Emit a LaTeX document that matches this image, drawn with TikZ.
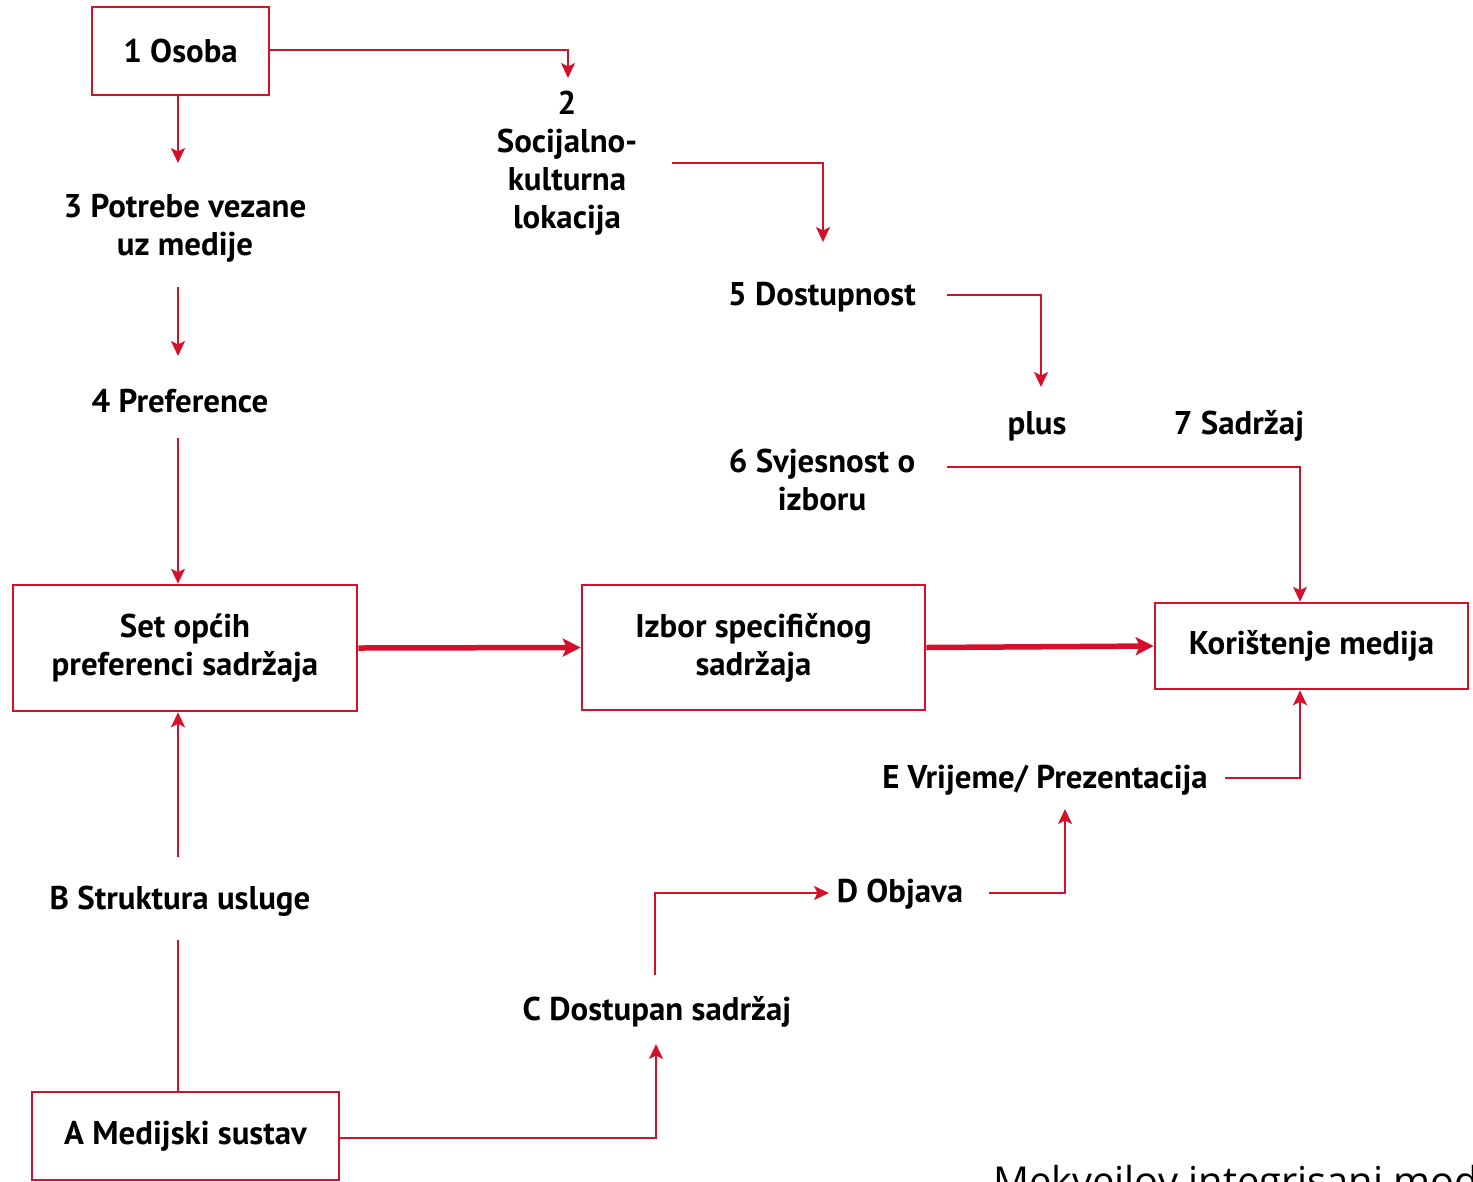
\documentclass[tikz,border=0pt]{standalone}
\usepackage{fontspec}
\setmainfont{PT Sans}
\newfontfamily\capfont{Open Sans}
\usetikzlibrary{arrows.meta,positioning}
\definecolor{lred}{RGB}{212,16,42}
\tikzset{
  lbl/.style={font=\fontsize{33}{38}\selectfont\bfseries, align=center, inner sep=0pt, text=black, yshift=-2bp},
  boxn/.style={draw=lred, line width=2.6bp, inner sep=0pt, font=\fontsize{33}{38}\selectfont\bfseries, align=center},
  conn/.style={draw=lred, line width=1.8bp},
  arr/.style={conn, -{Stealth[length=15bp,width=14bp,inset=3.5bp]}},
  thick arr/.style={draw=lred, line width=5.5bp, -{Stealth[length=18bp,width=18bp,inset=4bp]}},
}
\begin{document}
\begin{tikzpicture}[x=1bp,y=-1bp]
\useasboundingbox (0,0) rectangle (1473,1181);
% boxes
\node[boxn, minimum width=177bp, minimum height=88bp] (osoba) at (180.5,51) {1 Osoba};
\node[boxn, minimum width=344bp, minimum height=126bp] (set) at (185,648) {Set općih\\preferenci sadržaja};
\node[boxn, minimum width=343bp, minimum height=125bp] (izbor) at (753.5,647.5) {Izbor specifičnog\\sadržaja};
\node[boxn, minimum width=313bp, minimum height=86bp] (kor) at (1311.5,646) {Korištenje medija};
\node[boxn, minimum width=307bp, minimum height=88bp] (medij) at (185.5,1136) {A Medijski sustav};
% labels
\node[lbl] (soc) at (567,161) {2\\Socijalno-\\kulturna\\lokacija};
\node[lbl] (potr) at (185,226) {3 Potrebe vezane\\uz medije};
\node[lbl] (pref) at (180,399) {4 Preference};
\node[lbl] (dost) at (822,295) {5 Dostupnost};
\node[lbl] (plus) at (1037,424) {plus};
\node[lbl] (sadr) at (1239,424) {7 Sadržaj};
\node[lbl] (svj) at (822,478) {6 Svjesnost o\\izboru};
\node[lbl] (vrij) at (1045,778) {E Vrijeme/ Prezentacija};
\node[lbl] (objava) at (900,892) {D Objava};
\node[lbl] (dsadr) at (657,1010) {C Dostupan sadržaj};
\node[lbl] (strukt) at (180,899) {B Struktura usluge};
\node[anchor=base west, inner sep=0pt, font=\capfont\fontsize{40}{48}\selectfont] (cap) at (993,1195) {Mekvejlov integrisani model};
% coordinates
\coordinate (c2) at (568,78);
\coordinate (c3) at (178,163);
\coordinate (c3b) at (178,287);
\coordinate (c4) at (178,356);
\coordinate (c4b) at (178,438);
\coordinate (s1) at (672,163);
\coordinate (s2) at (823,242);
\coordinate (d1) at (947,295);
\coordinate (d2) at (1041,387);
\coordinate (v1) at (947,467);
\coordinate (e1) at (1225,778);
\coordinate (o1) at (989,893);
\coordinate (o2) at (1065,809);
\coordinate (cs1) at (655,975);
\coordinate (cs2) at (829,893);
\coordinate (m2) at (656,1044);
\coordinate (b1) at (178,940);
\coordinate (b2) at (178,857);
% connectors
\draw[arr] (osoba.east |- 0,50) -| (c2);
\draw[arr] (osoba.south -| c3) -- (c3);
\draw[arr] (c3b) -- (c4);
\draw[arr] (c4b) -- (set.north -| c4b);
\draw[thick arr] (set.east) -- (izbor.west);
\draw[thick arr] (izbor.east) -- (kor.west);
\draw[arr] (s1) -| (s2);
\draw[arr] (d1) -| (d2);
\draw[arr] (v1) -| (kor.north -| 1300,0);
\draw[arr] (e1) -| (kor.south -| 1300,0);
\draw[arr] (o1) -| (o2);
\draw[arr] (cs1) |- (cs2);
\draw[arr] (medij.east |- 0,1138) -| (m2);
\draw[conn] (medij.north -| b1) -- (b1);
\draw[arr] (b2) -- (set.south -| b2);
\end{tikzpicture}
\end{document}
